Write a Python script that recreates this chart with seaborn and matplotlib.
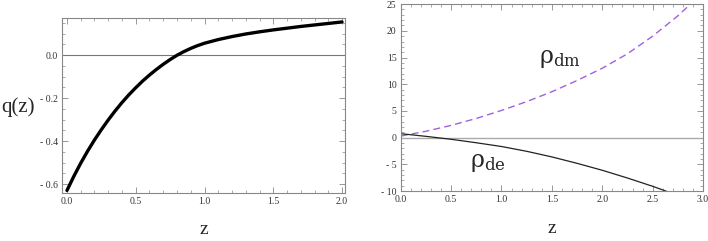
import matplotlib
matplotlib.use("Agg")
import matplotlib.pyplot as plt
import numpy as np
import pandas as pd
import seaborn as sns
from matplotlib.ticker import MultipleLocator

# deceleration parameter q(z)
z_q = [0.0, 0.05, 0.1, 0.15, 0.2, 0.25, 0.3, 0.35, 0.4, 0.45, 0.5,
       0.55, 0.6, 0.65, 0.7, 0.75, 0.8, 0.85, 0.9, 0.95, 1.0,
       1.1, 1.2, 1.3, 1.4, 1.5, 1.6, 1.7, 1.8, 1.9, 2.0]
q_vals = [-0.630, -0.564, -0.503, -0.447, -0.395, -0.347, -0.302, -0.260, -0.221, -0.185, -0.152,
          -0.121, -0.093, -0.067, -0.043, -0.021, -0.001, 0.016, 0.031, 0.044, 0.055,
          0.072, 0.086, 0.098, 0.108, 0.117, 0.125, 0.133, 0.140, 0.147, 0.154]

# densities
z_rho = [0.0, 0.25, 0.5, 0.75, 1.0, 1.25, 1.5, 1.75, 2.0, 2.25, 2.5, 2.75, 3.0]
rho_dm = [0.3, 1.2, 2.3, 3.6, 5.1, 6.75, 8.6, 10.7, 13.0, 15.7, 19.0, 22.8, 27.2]
rho_de = [0.75, 0.25, -0.3, -0.95, -1.65, -2.55, -3.6, -4.8, -6.1, -7.55, -9.1, -10.8, -12.6]

q_ticks = [0.0, -0.2, -0.4, -0.6]
q_tick_labels = ["0.0", "- 0.2", "- 0.4", "- 0.6"]
rho_ticks = [-10, -5, 0, 5, 10, 15, 20, 25]
rho_tick_labels = ["- 10", "- 5", "0", "5", "10", "15", "20", "25"]

sns.set_style("ticks")
plt.rcParams['font.family'] = ['Liberation Serif', 'DejaVu Serif']
plt.rcParams['mathtext.fontset'] = 'custom'
plt.rcParams['mathtext.rm'] = 'DejaVu Serif'
plt.rcParams['mathtext.it'] = 'DejaVu Serif'

fig = plt.figure(figsize=(7.08, 2.41), dpi=100)
ax1 = fig.add_axes([0.0876, 0.199, 0.3994, 0.726])
ax2 = fig.add_axes([0.566, 0.207, 0.427, 0.776])

frame_col = "#888888"


def style_frame(ax):
    for s in ax.spines.values():
        s.set_color(frame_col)
        s.set_linewidth(0.8)
    ax.tick_params(which="both", direction="in", top=True, right=True,
                   color=frame_col, labelsize=7, labelcolor="#333333", pad=3)
    ax.tick_params(which="major", length=4, width=0.6)
    ax.tick_params(which="minor", length=2, width=0.5)


# left panel
df_q = pd.DataFrame({"z": z_q, "q": q_vals})
ax1.axhline(0, color="#777777", lw=0.8, zorder=1)
sns.lineplot(data=df_q, x="z", y="q", ax=ax1, color="black", lw=2.4)
ax1.set_xlim(-0.036, 2.02)
ax1.set_ylim(-0.642, 0.172)
ax1.set_xticks([0.0, 0.5, 1.0, 1.5, 2.0])
ax1.set_xticklabels(["0.0", "0.5", "1.0", "1.5", "2.0"])
ax1.set_yticks(q_ticks)
ax1.set_yticklabels(q_tick_labels)
ax1.xaxis.set_minor_locator(MultipleLocator(0.1))
ax1.yaxis.set_minor_locator(MultipleLocator(0.05))
style_frame(ax1)
ax1.set_xlabel("z", fontsize=14, labelpad=11)
ax1.set_ylabel("q(z)", fontsize=15, rotation=0, ha="center", va="center")
ax1.yaxis.set_label_coords(-0.155, 0.49)

# right panel
df_rho = pd.DataFrame({"z": z_rho, "dm": rho_dm, "de": rho_de})
ax2.axhline(0, color="#aaaaaa", lw=1.0, zorder=1)
sns.lineplot(data=df_rho, x="z", y="dm", ax=ax2, color="#a35fe0", lw=1.0,
             linestyle=(0, (5, 3)))
sns.lineplot(data=df_rho, x="z", y="de", ax=ax2, color="#222222", lw=0.9)
ax2.set_xlim(0, 3)
ax2.set_ylim(-10, 25)
ax2.set_xticks([0.0, 0.5, 1.0, 1.5, 2.0, 2.5, 3.0])
ax2.set_xticklabels(["0.0", "0.5", "1.0", "1.5", "2.0", "2.5", "3.0"])
ax2.set_yticks(rho_ticks)
ax2.set_yticklabels(rho_tick_labels)
ax2.xaxis.set_minor_locator(MultipleLocator(0.1))
ax2.yaxis.set_minor_locator(MultipleLocator(1))
style_frame(ax2)
ax2.set_xlabel("z", fontsize=14, labelpad=11)
ax2.set_ylabel("")
ax2.text(1.37, 14.7, r"$\mathrm{\rho}_{\mathrm{dm}}$", fontsize=17, ha="left", va="center")
ax2.text(0.69, -4.8, r"$\mathrm{\rho}_{\mathrm{de}}$", fontsize=17, ha="left", va="center")

fig.savefig("out.png", dpi=100)
